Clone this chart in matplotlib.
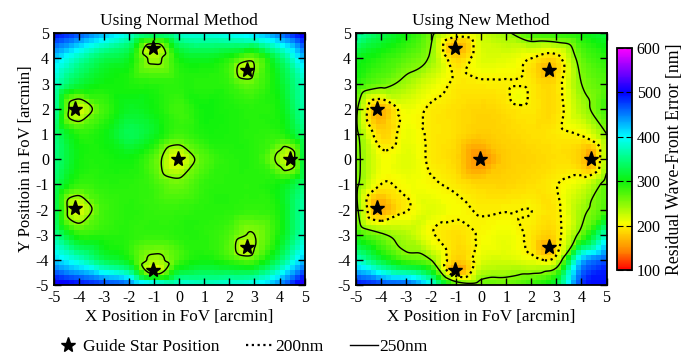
import numpy as np
import matplotlib
matplotlib.use("Agg")
import matplotlib.pyplot as plt
import matplotlib.tri as mtri
from matplotlib.colors import LinearSegmentedColormap
from matplotlib.lines import Line2D

plt.rcParams['font.family'] = ['Liberation Serif', 'DejaVu Serif']
plt.rcParams['font.size'] = 11.5
plt.rcParams['axes.unicode_minus'] = False

# grid positions [arcmin]
grid_x = [-5, -4, -3, -2, -1, 0, 1, 2, 3, 4, 5]
grid_y = [5, 4, 3, 2, 1, 0, -1, -2, -3, -4, -5]

# guide stars
star_x = [-1.05, 2.7, -4.15, -0.05, 4.4, -4.15, 2.7, -1.05]
star_y = [4.4, 3.55, 2.0, 0.0, 0.0, -1.95, -3.5, -4.4]

# residual wave-front error [nm], rows are y = 5 .. -5
normal_grid = [
    [500, 470, 430, 390, 360, 380, 390, 400, 420, 460, 520],
    [420, 370, 330, 310, 240, 300, 310, 295, 265, 340, 430],
    [380, 320, 300, 295, 290, 290, 290, 285, 270, 310, 380],
    [370, 260, 280, 310, 300, 280, 300, 295, 290, 300, 370],
    [350, 290, 300, 330, 310, 280, 295, 295, 290, 290, 350],
    [350, 300, 295, 300, 270, 225, 272, 290, 290, 240, 340],
    [340, 285, 290, 290, 280, 262, 285, 290, 290, 300, 350],
    [340, 255, 280, 290, 285, 285, 290, 290, 285, 300, 370],
    [360, 290, 290, 290, 285, 290, 290, 275, 250, 300, 380],
    [420, 380, 330, 300, 240, 280, 300, 285, 275, 340, 430],
    [520, 500, 480, 460, 420, 390, 380, 390, 400, 450, 530],
]
normal_star = [222, 222, 222, 212, 222, 218, 220, 222]

new_grid = [
    [370, 330, 300, 258, 215, 225, 245, 280, 290, 300, 320],
    [310, 290, 270, 245, 185, 215, 215, 200, 190, 265, 290],
    [290, 262, 240, 215, 196, 197, 198, 195, 190, 250, 275],
    [258, 180, 210, 197, 190, 185, 190, 195, 190, 235, 280],
    [258, 185, 210, 196, 190, 180, 185, 190, 195, 203, 250],
    [260, 208, 215, 196, 185, 150, 180, 185, 190, 180, 240],
    [258, 200, 207, 203, 195, 185, 185, 190, 199, 215, 265],
    [260, 175, 198, 215, 205, 198, 199, 200, 195, 240, 280],
    [290, 255, 235, 203, 190, 203, 210, 195, 190, 265, 380],
    [380, 320, 275, 250, 182, 215, 220, 210, 215, 420, 470],
    [500, 480, 470, 400, 280, 265, 265, 285, 330, 480, 500],
]
new_star = [165, 170, 170, 150, 160, 165, 165, 165]

# small >200nm pocket in the new method map
extra_x = [1.45]
extra_y = [2.45]
extra_new = [208]

cmap = LinearSegmentedColormap.from_list("wfe", [
    (0.0, (1, 0, 0)),
    (0.08, (1, 0.5, 0)),
    (0.18, (1, 0.88, 0)),
    (0.21, (0.97, 1, 0)),
    (0.4, (0.05, 0.95, 0.05)),
    (0.5, (0, 1, 0.5)),
    (0.6, (0, 1, 1)),
    (0.7, (0, 0.5, 1)),
    (0.8, (0, 0, 1)),
    (0.9, (0.5, 0, 1)),
    (1.0, (1, 0, 1)),
])


def build_field(grid_vals, star_vals, ex_x=(), ex_y=(), ex_v=()):
    gx, gy = np.meshgrid(grid_x, grid_y)
    gx, gy, gv = gx.ravel(), gy.ravel(), np.array(grid_vals, float).ravel()
    sx, sy = np.array(star_x), np.array(star_y)
    # drop grid nodes sitting on top of a star
    d = np.min(np.hypot(gx[:, None] - sx, gy[:, None] - sy), axis=1)
    keep = d > 0.3
    px = np.concatenate([gx[keep], sx, ex_x])
    py = np.concatenate([gy[keep], sy, ex_y])
    pv = np.concatenate([gv[keep], star_vals, ex_v])
    tri = mtri.Triangulation(px, py)
    return mtri.CubicTriInterpolator(tri, pv, kind='geom')


fig = plt.figure(figsize=(6.83, 3.6), dpi=100)
ax1 = fig.add_axes([0.079, 0.208, 0.367, 0.7])
ax2 = fig.add_axes([0.521, 0.208, 0.367, 0.7])
cax = fig.add_axes([0.903, 0.25, 0.022, 0.617])

edges = np.linspace(-5, 5, 51)
centers = 0.5 * (edges[:-1] + edges[1:])
cx, cy = np.meshgrid(centers, centers)
fine = np.linspace(-5, 5, 201)
fx, fy = np.meshgrid(fine, fine)

panels = [
    (ax1, "Using Normal Method", build_field(normal_grid, normal_star), [250]),
    (ax2, "Using New Method", build_field(new_grid, new_star, extra_x, extra_y, extra_new), [200, 250]),
]

for ax, title, interp, levels in panels:
    z = np.clip(interp(cx, cy).filled(300), 100, 600)
    mesh = ax.pcolormesh(edges, edges, z, cmap=cmap, vmin=100, vmax=600, shading='flat')
    zf = interp(fx, fy).filled(300)
    for lv in levels:
        ls = (0, (1, 1.6)) if lv == 200 else '-'
        lw = 1.6 if lv == 200 else 1.0
        ax.contour(fx, fy, zf, levels=[lv], colors='k', linewidths=lw, linestyles=[ls])
    ax.plot(star_x, star_y, marker='*', ls='none', color='k', ms=11)
    ax.set_xlim(-5, 5)
    ax.set_ylim(-5, 5)
    ax.set_xticks(range(-5, 6))
    ax.set_yticks(range(-5, 6))
    ax.tick_params(direction='in', top=True, right=True, length=5, width=1, labelsize=11.5)
    for sp in ax.spines.values():
        sp.set_linewidth(1.3)
    ax.set_title(title, fontsize=12.5, pad=6)
    ax.set_xlabel("X Position in FoV [arcmin]", fontsize=12.3, labelpad=2)

ax1.set_ylabel("Y Positioin in FoV [arcmin]", fontsize=12, labelpad=1)

cb = fig.colorbar(mesh, cax=cax)
cb.set_ticks([100, 200, 300, 400, 500, 600])
cb.ax.tick_params(direction='in', length=4, labelsize=11.5, left=True, right=True)
cb.outline.set_linewidth(1.3)
cb.set_label("Residual Wave-Front Error [nm]", fontsize=12.8, labelpad=4)

handles = [
    Line2D([], [], marker='*', ls='none', color='k', ms=11),
    Line2D([], [], color='k', lw=1.6, ls=(0, (1, 1.6))),
    Line2D([], [], color='k', lw=1.0),
]
fig.legend(handles, ["Guide Star Position", "200nm", "250nm"], loc='lower left',
           bbox_to_anchor=(0.056, -0.03), ncol=3, frameon=False, fontsize=12.5,
           handlelength=1.6, handletextpad=0.1, columnspacing=1.5)

fig.savefig("out.png", dpi=100)
